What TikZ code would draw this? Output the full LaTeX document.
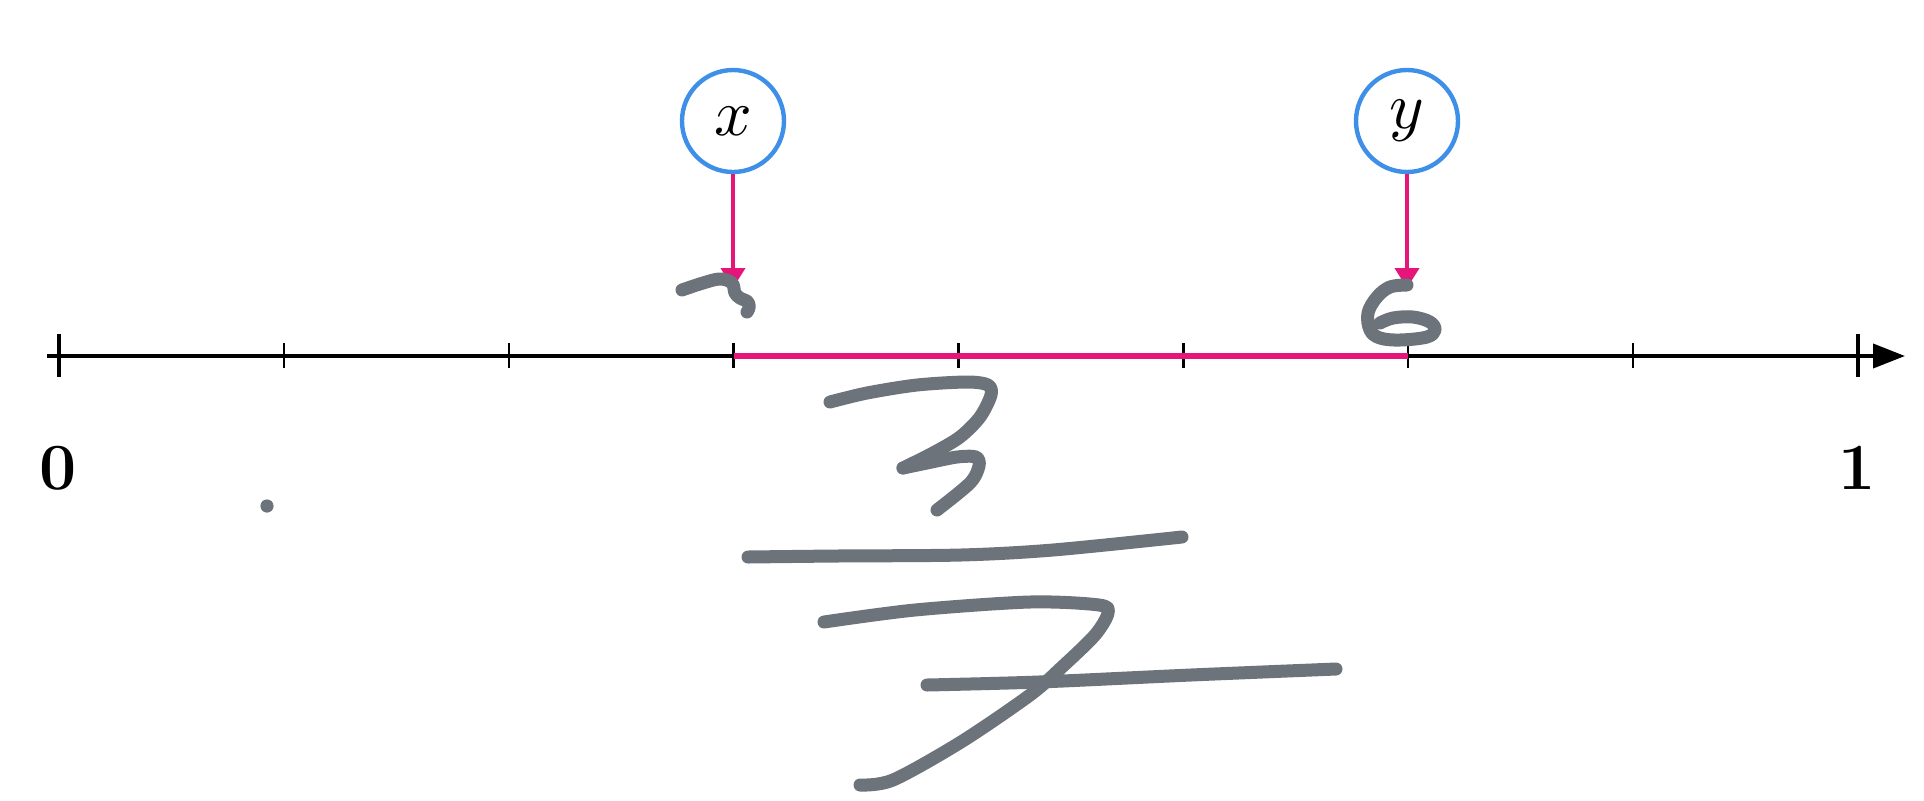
\documentclass[tikz,border=0pt]{standalone}
\usepackage{graphicx}
\usetikzlibrary{arrows.meta}
\definecolor{pinkc}{HTML}{E5157A}
\definecolor{bluec}{HTML}{3D8FE8}
\definecolor{inkc}{HTML}{6C737A}
\begin{document}
\begin{tikzpicture}[x=0.5pt,y=-0.5pt,
  axisline/.style={line width=2pt,black,-{Triangle[length=16pt,width=12pt]}},
  bigtick/.style={line width=2pt,black},
  smalltick/.style={line width=1.2pt,black},
  varcircle/.style={circle,draw=bluec,line width=2.2pt,fill=white,minimum size=51pt,inner sep=0pt},
  pointer/.style={pinkc,line width=2pt,-{Triangle[length=10pt,width=12pt]}},
  interval/.style={pinkc,line width=3pt},
  endlabel/.style={inner sep=0pt,font=\fontsize{33}{40}\selectfont\bfseries},
  ink/.style={inkc,line width=6.5pt,line cap=round,line join=round}]
\useasboundingbox (0,0) rectangle (1924,800);
% axis
\coordinate (axL) at (47,356);
\coordinate (axR) at (1905,356);
\draw[axisline] (axL) -- (axR);
\foreach \i in {0,8}{
  \draw[bigtick] ({59+224.875*\i},334) -- ({59+224.875*\i},377);
}
\foreach \i in {1,...,7}{
  \draw[smalltick] ({59+224.875*\i},343) -- ({59+224.875*\i},368);
}
\coordinate (px) at (734,356);
\coordinate (py) at (1408,356);
\draw[interval] (px) -- (py);
% labels
\node[endlabel] (zero) at (58,468) {0};
\node[endlabel] (one) at (1857,468) {1};
% variables
\node[varcircle] (x) at (733,121) {\scalebox{3.3}{$x$}};
\node[varcircle] (y) at (1407,121) {\scalebox{3.3}{$y$}};
\coordinate (xt) at (733,288);
\coordinate (yt) at (1407,288);
\draw[pointer] (x.south) -- (xt);
\draw[pointer] (y.south) -- (yt);
% handwriting
\fill[inkc] (267,506) circle (3.3pt);
\draw[ink] plot[smooth,tension=0.6] coordinates {(682,290) (703,283) (720,279) (732,283) (735,293) (740,298) (748,302) (749,308) (747,312)};
\draw[ink] plot[smooth,tension=0.6] coordinates {(1407,285) (1390,287) (1377,297) (1368,313) (1370,330) (1380,338) (1400,340) (1427,337) (1435,330) (1430,322) (1413,317) (1393,318) (1380,323)};
\draw[ink] plot[smooth,tension=0.5] coordinates {(830,402) (867,393) (917,385) (967,382) (988,385) (991,395) (980,417) (960,437) (933,453) (903,468)};
\draw[ink] plot[smooth,tension=0.5] coordinates {(903,468) (927,463) (957,457) (976,457) (979,466) (970,483) (937,510)};
\draw[ink] plot[smooth,tension=0.5] coordinates {(748,557) (837,556) (961,555) (1053,550) (1182,537)};
\draw[ink] plot[smooth,tension=0.5] coordinates {(824,622) (915,610) (1030,602) (1099,605) (1108,613) (1095,635) (1062,667) (1030,695) (961,742) (893,780) (860,785)};
\draw[ink] plot[smooth,tension=0.5] coordinates {(927,685) (1039,682) (1191,675) (1336,669)};
\end{tikzpicture}
\end{document}
